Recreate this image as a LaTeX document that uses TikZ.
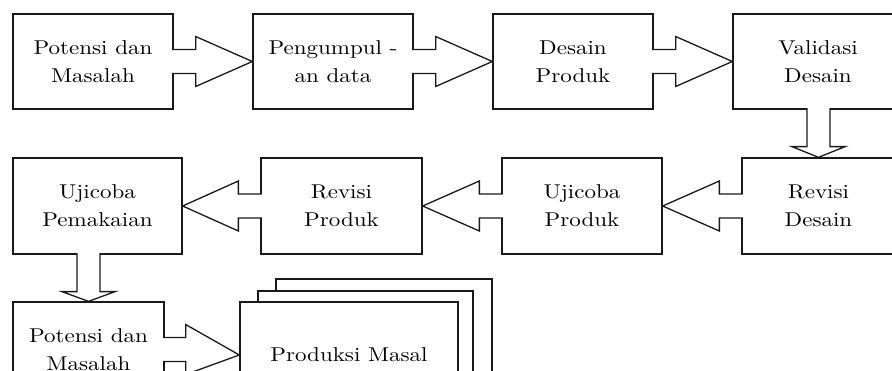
\documentclass[tikz,border=0pt]{standalone}
\usepackage{fontspec}
\setmainfont{lmroman10-regular.otf}[FakeStretch=1.15]
\usetikzlibrary{calc}
\tikzset{
  box/.style={draw=black!90, line width=1.3pt, fill=white, align=center,
    inner sep=0pt, font=\fontsize{20}{28}\selectfont, text=black},
  flow/.style={draw=black!90, line width=1.3pt, fill=white, line join=miter},
}
% block arrow pointing right: from, to, shaft length (opens into the source box)
\newcommand\rarrow[3]{%
  \draw[flow] ($(#1.east)+(-1.5,-12)$) -- ++(#3+1.5,0) -- ++(0,-13) -- (#2.west)
    -- ($(#1.east)+(#3,25)$) -- ++(0,-13) -- ($(#1.east)+(-1.5,12)$);}
% block arrow pointing left: from, to, shaft length
\newcommand\larrow[3]{%
  \draw[flow] ($(#1.west)+(1.5,-12)$) -- ++(-#3-1.5,0) -- ++(0,-13) -- (#2.east)
    -- ($(#1.west)+(-#3,25)$) -- ++(0,-13) -- ($(#1.west)+(1.5,12)$);}
% block arrow pointing down: from, to (aligned on the lower box)
\newcommand\darrow[2]{%
  \draw[flow] ($(#1.south -| #2.north)+(-11.5,-1.5)$) -- ++(0,38.5) -- ++(-15,0) -- (#2.north)
    -- ($(#1.south -| #2.north)+(26.5,37)$) -- ++(-15,0) -- ($(#1.south -| #2.north)+(11.5,-1.5)$);}
\begin{document}
\begin{tikzpicture}[x=1pt,y=-1pt]
  \useasboundingbox (0,0) rectangle (892,371);
  \clip (0,0) rectangle (892,371);
  % first row
  \node[box, minimum width=160pt, minimum height=95pt] (A) at (93,61.5) {Potensi dan\\Masalah};
  \node[box, minimum width=160pt, minimum height=95pt] (B) at (333,61.5) {Pengumpul -\\an data};
  \node[box, minimum width=160pt, minimum height=95pt] (C) at (573,61.5) {Desain\\Produk};
  \node[box, minimum width=170pt, minimum height=95pt] (D) at (818,61.5) {Validasi\\Desain};
  % second row
  \node[box, minimum width=169pt, minimum height=96pt] (E) at (97.5,206) {Ujicoba\\Pemakaian};
  \node[box, minimum width=161pt, minimum height=96pt] (F) at (341.5,206) {Revisi\\Produk};
  \node[box, minimum width=160pt, minimum height=96pt] (G) at (582,206) {Ujicoba\\Produk};
  \node[box, minimum width=153pt, minimum height=96pt] (H) at (818.5,206) {Revisi\\Desain};
  % third row
  \node[box, minimum width=151pt, minimum height=95pt] (I) at (88.5,349.5) {Potensi dan\\Masalah};
  \node[box, minimum width=216pt, minimum height=106pt] (J3) at (384,332) {};
  \node[box, minimum width=215pt, minimum height=106pt] (J2) at (365.5,344) {};
  \node[box, minimum width=218pt, minimum height=106pt] (J) at (349,355) {Produksi Masal};
  % connectors
  \rarrow{A}{B}{22}
  \rarrow{B}{C}{22}
  \rarrow{C}{D}{22}
  \darrow{D}{H}
  \larrow{H}{G}{22}
  \larrow{G}{F}{22}
  \larrow{F}{E}{22}
  \darrow{E}{I}
  \rarrow{I}{J}{21}
\end{tikzpicture}
\end{document}
